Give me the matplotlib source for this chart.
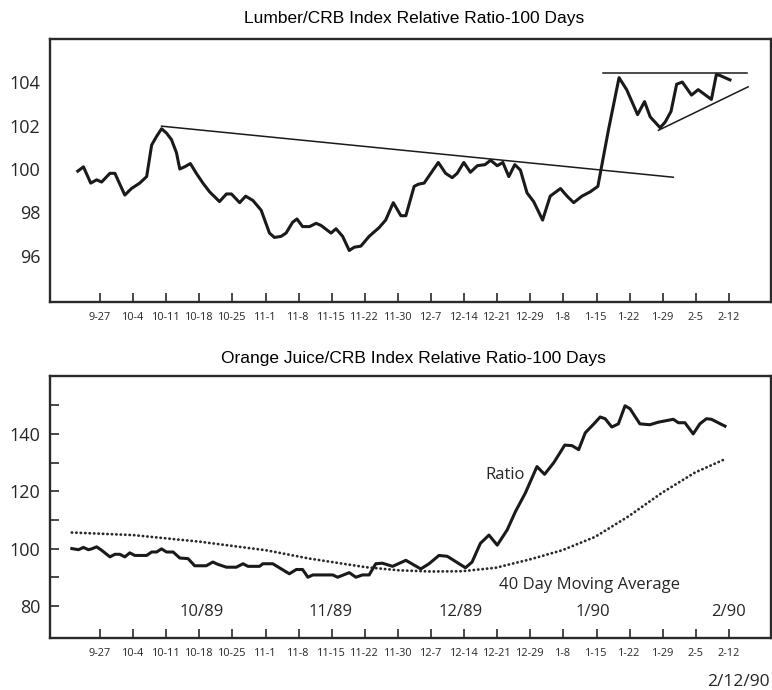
import matplotlib
matplotlib.use("Agg")
import matplotlib.pyplot as plt
from matplotlib.ticker import FixedLocator

# ---------------- data ----------------
week_labels = ["9-27", "10-4", "10-11", "10-18", "10-25", "11-1", "11-8", "11-15",
               "11-22", "11-30", "12-7", "12-14", "12-21", "12-29", "1-8", "1-15",
               "1-22", "1-29", "2-5", "2-12"]

# x positions in weeks (0 = 9-27 tick)
lumber_x = [-0.67, -0.50, -0.28, -0.10, 0.05, 0.30, 0.45, 0.75, 0.95, 1.20, 1.41, 1.56,
            1.71, 1.86, 2.01, 2.16, 2.31, 2.41, 2.56, 2.73, 2.91, 3.11, 3.31, 3.61,
            3.82, 3.97, 4.22, 4.40, 4.62, 4.87, 5.12, 5.27, 5.47, 5.62, 5.82, 5.95,
            6.12, 6.33, 6.53, 6.68, 6.98, 7.13, 7.33, 7.53, 7.68, 7.88, 8.13, 8.43,
            8.63, 8.86, 9.09, 9.24, 9.49, 9.62, 9.79, 10.22, 10.44, 10.64, 10.79, 10.99,
            11.19, 11.40, 11.63, 11.80, 12.00, 12.17, 12.35, 12.53, 12.70, 12.90, 13.10, 13.37,
            13.60, 13.91, 14.11, 14.31, 14.56, 14.81, 15.04, 15.36, 15.68, 15.91, 16.24, 16.45,
            16.62, 16.92, 17.07, 17.25, 17.42, 17.59, 17.87, 18.07, 18.47, 18.62, 18.73, 19.03]
lumber_y = [99.9, 100.1, 99.35, 99.5, 99.4, 99.8, 99.8, 98.8, 99.1, 99.35, 99.65, 101.1,
            101.5, 101.85, 101.65, 101.35, 100.75, 100.0, 100.1, 100.25, 99.8, 99.35, 98.95, 98.5,
            98.85, 98.85, 98.45, 98.75, 98.55, 98.1, 97.05, 96.85, 96.9, 97.05, 97.55, 97.7,
            97.35, 97.35, 97.5, 97.4, 97.05, 97.25, 96.9, 96.25, 96.4, 96.45, 96.9, 97.3,
            97.65, 98.45, 97.85, 97.85, 99.2, 99.3, 99.35, 100.3, 99.8, 99.6, 99.8, 100.3,
            99.85, 100.15, 100.2, 100.4, 100.15, 100.3, 99.65, 100.2, 99.95, 98.9, 98.5, 97.65,
            98.75, 99.1, 98.75, 98.45, 98.75, 98.95, 99.2, 101.8, 104.2, 103.65, 102.5, 103.1,
            102.4, 101.9, 102.15, 102.65, 103.9, 104.0, 103.4, 103.65, 103.2, 104.35, 104.3, 104.1]

# trend lines on the lumber chart
down_trend_x = [1.86, 17.32]
down_trend_y = [101.97, 99.62]
top_line_x = [15.21, 19.53]
top_line_y = [104.43, 104.43]
rise_line_x = [16.87, 19.58]
rise_line_y = [101.78, 103.78]

oj_x = [-0.85, -0.65, -0.5, -0.35, -0.25, -0.1, 0.05, 0.3, 0.45, 0.6, 0.75, 0.9, 1.05,
        1.41, 1.56, 1.71, 1.86, 2.01, 2.21, 2.41, 2.66, 2.86, 3.21, 3.41, 3.56, 3.82,
        4.12, 4.32, 4.47, 4.82, 4.92, 5.22, 5.42, 5.72, 5.93, 6.12, 6.28, 6.43, 7.03,
        7.18, 7.53, 7.73, 7.93, 8.13, 8.33, 8.53, 8.84, 9.24, 9.69, 9.94, 10.24, 10.49,
        10.74, 11.04, 11.24, 11.49, 11.75, 12.0, 12.3, 12.55, 12.85, 13.2, 13.43, 13.71,
        14.04, 14.26, 14.46, 14.66, 14.92, 15.11, 15.26, 15.46, 15.66, 15.86, 16.01, 16.31,
        16.61, 16.87, 17.32, 17.47, 17.67, 17.92, 18.12, 18.32, 18.47, 18.88]
oj_y = [100.0, 99.6, 100.4, 99.6, 99.9, 100.6, 99.4, 97.1, 98.0, 98.0, 97.1, 98.5, 97.6,
        97.6, 98.8, 98.8, 99.9, 98.8, 98.8, 96.7, 96.5, 94.0, 94.0, 95.3, 94.5, 93.5,
        93.5, 94.7, 93.8, 93.8, 94.7, 94.7, 93.3, 91.2, 92.7, 92.7, 90.0, 90.8, 90.8,
        90.0, 91.6, 90.0, 90.8, 90.8, 94.7, 94.9, 93.8, 95.9, 92.9, 94.7, 97.6, 97.3,
        95.5, 93.3, 95.3, 101.8, 104.7, 101.2, 106.5, 112.9, 119.4, 128.6, 125.9, 130.0,
        136.1, 135.9, 134.5, 140.4, 143.5, 145.9, 145.3, 142.4, 143.5, 149.8, 148.8, 143.5,
        143.2, 144.1, 145.1, 143.9, 143.9, 140.0, 143.5, 145.3, 145.1, 142.7]

ma_x = [-0.85, 1.0, 3.01, 5.02, 6.33, 8.03, 9.04, 10.0, 10.94, 11.95, 12.95, 13.96,
        14.96, 15.96, 16.97, 17.97, 18.88]
ma_y = [105.6, 104.7, 102.4, 99.4, 96.5, 93.5, 92.4, 92.0, 92.1, 93.3, 96.1, 99.4,
        104.1, 111.2, 119.4, 126.5, 131.2]

month_labels = ["10/89", "11/89", "12/89", "1/90", "2/90"]
month_x = [3.06, 6.95, 10.9, 14.9, 19.0]

# ---------------- style ----------------
W, H = 772, 690
fig = plt.figure(figsize=(W / 100, H / 100), dpi=100)
fig.patch.set_facecolor("white")

BODY = ["Open Sans", "DejaVu Sans"]
TITLE = ["Liberation Sans", "DejaVu Sans"]
INK = "#1a1a1a"
GREY = "#262626"


def box(l, t, r, b):
    return [l / W, 1 - b / H, (r - l) / W, (b - t) / H]


def style_axes(ax):
    for s in ax.spines.values():
        s.set_linewidth(1.7)
        s.set_color("#2a2a2a")
    ax.set_xlim(-1.51, 20.27)
    ax.set_xticks(range(len(week_labels)))
    ax.set_xticklabels(week_labels, family=BODY, fontsize=7.8, color=GREY)
    ax.tick_params(axis="x", direction="in", length=6.5, width=1.2, color="#2a2a2a", pad=7)


# ---------------- top panel ----------------
ax1 = fig.add_axes(box(50, 39, 771, 302))
style_axes(ax1)
ax1.set_ylim(93.88, 105.98)
ax1.set_yticks([96, 98, 100, 102, 104])
ax1.set_yticklabels(["96", "98", "100", "102", "104"], family=BODY, fontsize=13, color=GREY)
ax1.tick_params(axis="y", length=0, pad=7)
ax1.plot(lumber_x, lumber_y, color=INK, lw=2.2, solid_joinstyle="round")
ax1.plot(down_trend_x, down_trend_y, color=INK, lw=1.1)
ax1.plot(top_line_x, top_line_y, color=INK, lw=1.1)
ax1.plot(rise_line_x, rise_line_y, color=INK, lw=1.1)

fig.text(414 / W, 1 - 18 / H, "Lumber/CRB Index Relative Ratio-100 Days",
         family=TITLE, fontsize=12.5, ha="center", va="center", color="black")

# ---------------- bottom panel ----------------
ax2 = fig.add_axes(box(50, 376, 771, 638))
style_axes(ax2)
ax2.set_ylim(68.8, 160.2)
ax2.set_yticks([80, 100, 120, 140])
ax2.set_yticklabels(["80", "100", "120", "140"], family=BODY, fontsize=13, color=GREY)
ax2.yaxis.set_minor_locator(FixedLocator([90, 110, 130, 150]))
ax2.tick_params(axis="y", which="both", direction="in", length=6.5, width=1.2,
                color="#2a2a2a", pad=7)
ax2.plot(oj_x, oj_y, color=INK, lw=2.2, solid_joinstyle="round")
ax2.plot(ma_x, ma_y, color="#2a2a2a", lw=2.0, linestyle=(0, (0.1, 1.5)),
         dash_capstyle="round")

for lab, xm in zip(month_labels, month_x):
    ax2.text(xm, 77.9, lab, family=BODY, fontsize=12, ha="center", va="center", color=GREY)
ax2.text(12.24, 125.5, "Ratio", family=BODY, fontsize=12, ha="center", va="center", color=GREY)
ax2.text(14.8, 87.3, "40 Day Moving Average", family=BODY, fontsize=12,
         ha="center", va="center", color=GREY)

fig.text(413 / W, 1 - 358 / H, "Orange Juice/CRB Index Relative Ratio-100 Days",
         family=TITLE, fontsize=12.5, ha="center", va="center", color="black")
fig.text(770 / W, 1 - 682 / H, "2/12/90", family=BODY, fontsize=12.5,
         ha="right", va="center", color=GREY)

fig.savefig("out.png", dpi=100, facecolor="white")
